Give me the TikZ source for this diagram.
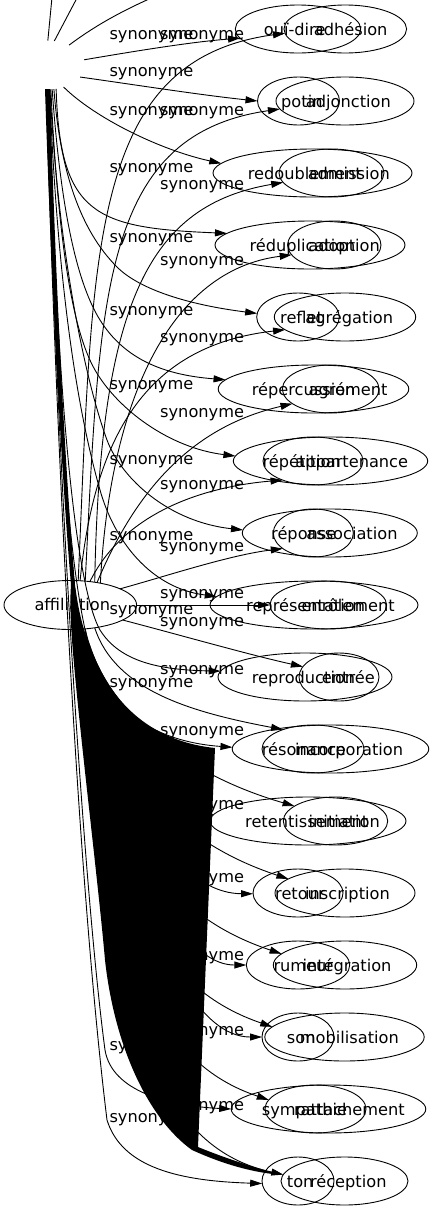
\documentclass[tikz,border=0pt]{standalone}
\usepackage{fontspec}
\setmainfont{DejaVu Sans}
\usetikzlibrary{shapes.geometric,arrows.meta}
\begin{document}
\begin{tikzpicture}[x=1pt,y=-1pt,
  ell/.style={ellipse,draw,inner sep=0pt,outer sep=0pt,minimum height=48pt,line width=0.9pt},
  hid/.style={ellipse,inner sep=0pt,outer sep=0pt},
  txt/.style={inner sep=0pt,font=\fontsize{16.2}{19}\selectfont},
  tl/.style={txt,anchor=base west},
  tr/.style={txt,anchor=base east},
  syn/.style={txt,anchor=base west},
  arr/.style={line width=0.9pt,-{Triangle[length=12pt,width=7pt]}},
  ln/.style={line width=0.9pt}]
\useasboundingbox (0,0) rectangle (435,1211);
\clip (0,0) rectangle (435,1211);

% hubs
\node[hid,minimum width=76pt,minimum height=49pt] (hub2) at (47,65) {};
\node[ell,minimum width=132.6pt,minimum height=49pt] (aff) at (70.3,605) {};
\node[tl] (taff) at (34.3,610) {affiliation};
\coordinate (up1) at (52.7,-10);
\coordinate (up2) at (81.2,-10);
\coordinate (up3) at (165,-8);

% ellipses, rows 1..17
\node[ell,minimum width=125.4pt] (g2r1) at (298,29) {};
\node[ell,minimum width=122.6pt] (g1r1) at (345.3,29) {};
\node[ell,minimum width=82pt] (g2r2) at (298.5,101) {};
\node[ell,minimum width=138pt] (g1r2) at (345,101) {};
\node[ell,minimum width=199pt] (g2r3) at (312.5,173) {};
\node[ell,minimum width=105pt] (g1r3) at (331.5,173) {};
\node[ell,minimum width=190pt] (g2r4) at (310,245) {};
\node[ell,minimum width=93.4pt] (g1r4) at (334.3,245) {};
\node[ell,minimum width=82.6pt] (g2r5) at (298,317) {};
\node[ell,minimum width=141.4pt] (g1r5) at (345,317) {};
\node[ell,minimum width=190.6pt] (g2r6) at (313.5,389) {};
\node[ell,minimum width=96.6pt] (g1r6) at (330.7,389) {};
\node[ell,minimum width=194.4pt] (g2r7) at (330.5,461) {};
\node[ell,minimum width=100pt] (g1r7) at (313,461) {};
\node[ell,minimum width=175pt] (g2r8) at (329.8,533) {};
\node[ell,minimum width=80pt] (g1r8) at (313.3,533) {};
\node[ell,minimum width=208pt] (g2r9) at (314,605) {};
\node[ell,minimum width=116.6pt] (g1r9) at (328.3,605) {};
\node[ell,minimum width=174pt] (g2r10) at (305,677) {};
\node[ell,minimum width=80pt] (g1r10) at (339,677) {};
\node[ell,minimum width=196.6pt] (g2r11) at (330.5,749) {};
\node[ell,minimum width=102pt] (g1r11) at (313,749) {};
\node[ell,minimum width=196pt] (g2r12) at (308,821) {};
\node[ell,minimum width=104.4pt] (g1r12) at (335.5,821) {};
\node[ell,minimum width=90pt] (g2r13) at (298,893) {};
\node[ell,minimum width=140pt] (g1r13) at (345,893) {};
\node[ell,minimum width=103.4pt] (g2r14) at (298,965) {};
\node[ell,minimum width=143.4pt] (g1r14) at (345,965) {};
\node[ell,minimum width=72pt] (g2r15) at (298,1037) {};
\node[ell,minimum width=159.4pt] (g1r15) at (344.5,1037) {};
\node[ell,minimum width=194.6pt] (g2r16) at (328.5,1109) {};
\node[ell,minimum width=101pt] (g1r16) at (315.5,1109) {};
\node[ell,minimum width=72pt] (g2r17) at (298,1181) {};
\node[ell,minimum width=127pt] (g1r17) at (344.5,1181) {};

% node texts
\node[tl] (t2r1) at (263.7,35) {ouï-dire};
\node[tl] (t2r2) at (281,107) {potin};
\node[tl] (t2r3) at (247.7,179) {redoublement};
\node[tl] (t2r4) at (249.3,251) {réduplication};
\node[tl] (t2r5) at (280,323) {reflet};
\node[tl] (t2r6) at (251.7,395) {répercussion};
\node[tl] (t2r7) at (262.3,467) {répétition};
\node[tl] (t2r8) at (271,539) {réponse};
\node[tl] (t2r9) at (246,611) {représentation};
\node[tl] (t2r10) at (251.7,683) {reproduction};
\node[tl] (t2r11) at (261.7,755) {résonance};
\node[tl] (t2r12) at (245,827) {retentissement};
\node[tl] (t2r13) at (275,899) {retour};
\node[tl] (t2r14) at (273.3,971) {rumeur};
\node[tl] (t2r15) at (286.7,1043) {son};
\node[tl] (t2r16) at (261.7,1115) {sympathie};
\node[tl] (t2r17) at (286.7,1187) {ton};
\node[tr] (t1r1) at (387.7,35) {adhésion};
\node[tr] (t1r2) at (391,107) {adjonction};
\node[tr] (t1r3) at (390,179) {admission};
\node[tr] (t1r4) at (380,251) {adoption};
\node[tr] (t1r5) at (393.3,323) {agrégation};
\node[tr] (t1r6) at (387.7,395) {agrément};
\node[tr] (t1r7) at (408.3,467) {appartenance};
\node[tr] (t1r8) at (397.7,539) {association};
\node[tr] (t1r9) at (395,611) {enrôlement};
\node[tr] (t1r10) at (375,683) {entrée};
\node[tr] (t1r11) at (403.3,755) {incorporation};
\node[tr] (t1r12) at (380,827) {initiation};
\node[tr] (t1r13) at (390,899) {inscription};
\node[tr] (t1r14) at (391.7,971) {intégration};
\node[tr] (t1r15) at (399,1043) {mobilisation};
\node[tr] (t1r16) at (405,1115) {rattachement};
\node[tr] (t1r17) at (386.7,1187) {réception};

% edges from the hidden hub
\draw[arr] (hub2.8) .. controls (130,52) and (190,42) .. (g2r1.189);
\draw[arr] (hub2.-20) .. controls (130,84) and (200,95) .. (g2r2.180);
\draw[arr] (hub2.-53) .. controls (95,118) and (160,150) .. (g2r3.174);
\draw[arr] (hub2.-69) .. controls (60,215) and (95,228) .. (g2r4.172);
\draw[arr] (hub2.-74) .. controls (60,170) and (80,230) .. (117,267) .. controls (140,290) and (190,305) .. (g2r5.175);
\draw[arr] (hub2.-78) .. controls (60,200) and (75,280) .. (100,320) .. controls (125,360) and (165,375) .. (g2r6.174);
\draw[arr] (hub2.-81) .. controls (58,240) and (72,330) .. (95,370) .. controls (118,410) and (170,448) .. (g2r7.177);
\draw[arr] (hub2.-83) .. controls (58,250) and (85,380) .. (107,440) .. controls (122,480) and (170,522) .. (g2r8.178);
\draw[arr] (hub2.-84) .. controls (58,300) and (80,420) .. (100,490) .. controls (114,540) and (150,588) .. (g2r9.175);
\draw[arr] (hub2.-85) .. controls (55,350) and (72,580) .. (100,630) .. controls (120,662) and (160,670) .. (g2r10.176);
\draw[arr] (hub2.-86) .. controls (55,400) and (70,600) .. (95,665) .. controls (115,715) and (160,742) .. (g2r11.179);
\draw[arr] (hub2.-87) .. controls (55,400) and (72,570) .. (80,640) .. controls (88,700) and (150,815) .. (g2r12.176);
\draw[arr] (hub2.-87) .. controls (55,400) and (72,570) .. (80,640) .. controls (88,700) and (150,893) .. (g2r13.181);
\draw[arr] (hub2.-87) .. controls (55,400) and (72,570) .. (80,640) .. controls (88,700) and (150,965) .. (g2r14.180);
\draw[arr] (hub2.-87) .. controls (55,400) and (72,570) .. (80,640) .. controls (88,700) and (150,1037) .. (g2r15.180);
\draw[arr] (hub2.-90) .. controls (58,500) and (85,900) .. (105,1050) .. controls (112,1092) and (170,1106) .. (g2r16.180);
\draw[arr] (hub2.-92) .. controls (58,500) and (80,900) .. (107,1120) .. controls (122,1168) and (180,1181) .. (g2r17.184);
\draw[ln] (hub2.88) -- (up1);
\draw[ln] (hub2.73) -- (up2);
\draw[ln] (hub2.42) .. controls (100,22) and (130,7) .. (up3);

% edges from affiliation
\draw[arr] (aff.72) .. controls (93,252) and (88,60) .. (g1r1.184);
\draw[arr] (aff.58) .. controls (100,298) and (100,135) .. (g1r2.187);
\draw[arr] (aff.43) .. controls (100,300) and (150,205) .. (g1r3.191);
\draw[arr] (aff.36) .. controls (110,400) and (170,270) .. (g1r4.193);
\draw[arr] (aff.68) .. controls (95,430) and (150,345) .. (g1r5.192);
\draw[arr] (aff.40) .. controls (140,480) and (200,425) .. (g1r6.201);
\draw[arr] (aff.50) .. controls (120,520) and (190,488) .. (g1r7.212);
\draw[arr] (aff.18) .. controls (170,575) and (230,555) .. (g1r8.207);
\draw[arr] (aff.east) -- (g1r9.180);
\draw[arr] (aff.-16) .. controls (180,635) and (250,655) .. (g1r10.164);
\draw[arr] (aff.-43) .. controls (115,690) and (190,712) .. (g1r11.147);
\draw[arr] (aff.-58) .. controls (100,700) and (170,770) .. (g1r12.160);
\draw[arr] (aff.-58) .. controls (100,760) and (170,840) .. (g1r13.166);
\draw[arr] (aff.-62) .. controls (100,830) and (165,915) .. (g1r14.170);
\draw[arr] (aff.-64) .. controls (100,900) and (165,990) .. (g1r15.172);
\draw[arr] (aff.-68) .. controls (100,970) and (165,1065) .. (g1r16.169);
\draw[arr] (aff.-72) .. controls (100,1040) and (170,1150) .. (g1r17.174);

% edge labels
\node[syn] (la1) at (109.3,39.7) {synonyme};
\node[syn] (la2) at (109.3,76.7) {synonyme};
\node[syn] (la3) at (109.3,115.7) {synonyme};
\node[syn] (la4) at (109.3,172.3) {synonyme};
\node[syn] (la5) at (109.3,242.3) {synonyme};
\node[syn] (la6) at (109.3,315.7) {synonyme};
\node[syn] (la7) at (109.3,389) {synonyme};
\node[syn] (la8) at (109.3,464) {synonyme};
\node[syn] (la9) at (109.3,540) {synonyme};
\node[syn] (la10) at (109.3,614.7) {synonyme};
\node[syn] (la11) at (109.3,687) {synonyme};
\node[syn] (la16) at (109.3,1050.7) {synonyme};
\node[syn] (la17) at (109.3,1122.3) {synonyme};
\node[syn] (lb1) at (160,39.7) {synonyme};
\node[syn] (lb2) at (160,115.7) {synonyme};
\node[syn] (lb3) at (160,189) {synonyme};
\node[syn] (lb4) at (160,265.7) {synonyme};
\node[syn] (lb5) at (160,342.3) {synonyme};
\node[syn] (lb6) at (160,417.3) {synonyme};
\node[syn] (lb7) at (160,489) {synonyme};
\node[syn] (lb8) at (160,551.3) {synonyme};
\node[syn] (lb9) at (160,598) {synonyme};
\node[syn] (lb9b) at (160,626.7) {synonyme};
\node[syn] (lb10) at (160,674) {synonyme};
\node[syn] (lb11) at (160,735.7) {synonyme};
\node[syn] (lb12) at (160,809) {synonyme};
\node[syn] (lb13) at (160,882) {synonyme};
\node[syn] (lb14) at (160,960.7) {synonyme};
\node[syn] (lb15) at (160,1035.7) {synonyme};
\node[syn] (lb16) at (160,1110.7) {synonyme};

% the filled black mass
\fill[black] (45,89) -- (50,89) .. controls (56,300) and (66,480) .. (75,585)
  .. controls (79,615) and (84,632) .. (90,645)
  .. controls (105,690) and (140,740) .. (215,748)
  -- (198,1147)
  .. controls (225,1158) and (255,1168) .. (283,1175)
  .. controls (255,1173) and (225,1165) .. (192,1150)
  .. controls (150,1120) and (115,1050) .. (105,960)
  .. controls (98,880) and (78,720) .. (72,640)
  .. controls (70,610) and (70,600) .. (71,585)
  .. controls (62,480) and (52,300) .. (45,89) -- cycle;
\end{tikzpicture}
\end{document}
